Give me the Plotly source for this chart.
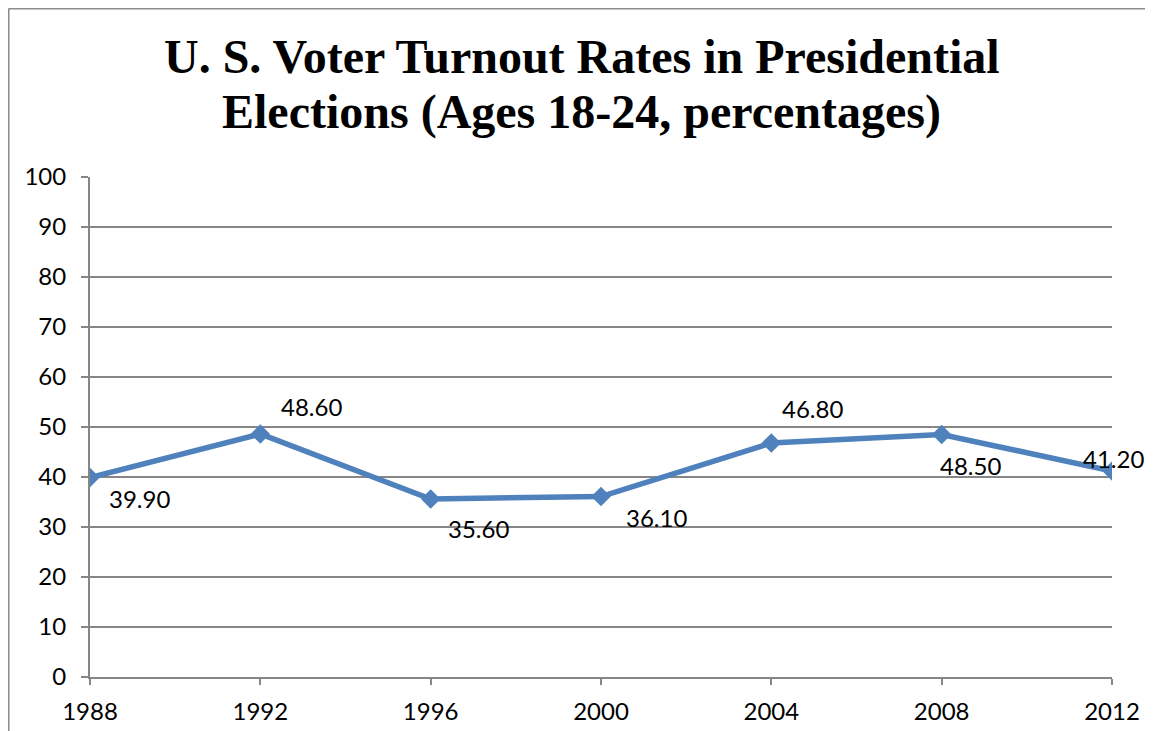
import plotly.graph_objects as go

years = [1988, 1992, 1996, 2000, 2004, 2008, 2012]
turnout = [39.9, 48.6, 35.6, 36.1, 46.8, 48.5, 41.2]
labels = ["39.90", "48.60", "35.60", "36.10", "46.80", "48.50", "41.20"]
# label offsets (px) relative to each point
label_dx = [49, 51, 48, 55, 41, 29, 1]
label_dy = [-21, 28, -29, -21, 35, -31, 13]
y_ticks = list(range(0, 101, 10))
title_lines = ["U. S. Voter Turnout Rates in Presidential",
               "Elections (Ages 18-24, percentages)"]

LBL_FONT = "Lato, Carlito, Calibri, sans-serif"
TITLE_FONT = "Liberation Serif, Times New Roman, serif"
GRID = "#868686"

fig = go.Figure()
fig.add_trace(go.Scatter(
    x=years, y=turnout, mode="lines+markers",
    line=dict(color="#4F81BD", width=5.5),
    marker=dict(symbol="diamond", size=15, color="#4F81BD"),
    hoverinfo="skip", showlegend=False,
))

for x, y, t, dx, dy in zip(years, turnout, labels, label_dx, label_dy):
    fig.add_annotation(x=x, y=y, text=t, showarrow=False, xshift=dx, yshift=dy,
                       font=dict(family=LBL_FONT, size=24, color="black"))

for line, ty in zip(title_lines, [1.242, 1.131]):
    fig.add_annotation(xref="paper", yref="paper", x=0.4814, y=ty, text=line,
                       showarrow=False, xanchor="center", yanchor="middle",
                       font=dict(family=TITLE_FONT, size=48, color="black", weight="bold"))

fig.update_layout(
    width=1145, height=723,
    margin=dict(l=82, r=41, t=169, b=54, autoexpand=False),
    paper_bgcolor="white", plot_bgcolor="white",
    xaxis=dict(
        range=[1988, 2012], tickmode="array", tickvals=years, ticktext=[str(v) for v in years],
        showgrid=False, showline=True, linecolor=GRID, linewidth=2,
        ticks="outside", ticklen=6, tickcolor=GRID, tickwidth=2, ticklabelstandoff=6,
        tickfont=dict(family=LBL_FONT, size=24, color="black"), zeroline=False,
        automargin=False,
    ),
    yaxis=dict(
        range=[0, 100], tickmode="array", tickvals=y_ticks,
        showgrid=True, gridcolor=GRID, gridwidth=1.5,
        showline=True, linecolor=GRID, linewidth=2,
        ticks="outside", ticklen=7, tickcolor=GRID, tickwidth=1.5, ticklabelstandoff=10,
        tickfont=dict(family=LBL_FONT, size=24, color="black"), zeroline=False,
        automargin=False,
    ),
    shapes=[
        dict(type="line", xref="paper", yref="paper", x0=-0.0797, x1=1.2, y0=1.337, y1=1.337,
             line=dict(color="#8C8C8C", width=2)),
        dict(type="line", xref="paper", yref="paper", x0=-0.0797, x1=-0.0797, y0=1.337, y1=-0.2,
             line=dict(color="#8C8C8C", width=2)),
    ],
)

fig.write_html("out.html")
